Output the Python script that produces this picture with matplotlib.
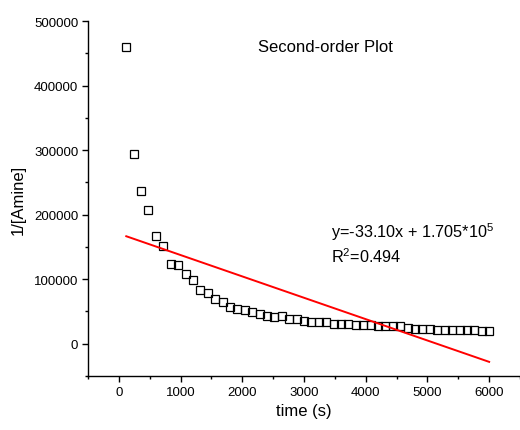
import numpy as np
import matplotlib
matplotlib.use('Agg')
import matplotlib.pyplot as plt
from matplotlib.ticker import MultipleLocator

plt.rcParams['font.family'] = ['Liberation Sans', 'DejaVu Sans']
plt.rcParams['mathtext.fontset'] = 'custom'
plt.rcParams['mathtext.rm'] = 'Liberation Sans'
plt.rcParams['mathtext.default'] = 'regular'

# sampling times (s) and 1/[Amine]
time_s = [120, 240, 360, 480, 600, 720, 840, 960, 1080, 1200,
          1320, 1440, 1560, 1680, 1800, 1920, 2040, 2160, 2280, 2400,
          2520, 2640, 2760, 2880, 3000, 3120, 3240, 3360, 3480, 3600,
          3720, 3840, 3960, 4080, 4200, 4320, 4440, 4560, 4680, 4800,
          4920, 5040, 5160, 5280, 5400, 5520, 5640, 5760, 5880, 6000]
inv_amine = [460000, 294000, 236000, 207000, 167000, 152000, 124000, 122000, 108500, 98500,
             84000, 78500, 70000, 64000, 57500, 54300, 51500, 48600, 45800, 43700,
             40900, 42500, 38500, 37800, 35000, 33800, 33300, 33600, 31100, 31100,
             30000, 29000, 28500, 28500, 28000, 27000, 27000, 26900, 23800, 22700,
             22700, 22700, 21700, 21700, 21700, 20700, 20700, 20700, 20200, 20200]

# linear fit parameters
slope = -33.10
intercept = 1.705e5
r2 = 0.494

fig = plt.figure(figsize=(5.2, 4.31), dpi=100)
ax = fig.add_axes([88/520, 54/431, 432/520, 355/431])

ax.plot(time_s, inv_amine, ls='none', marker='s', ms=5.4, mfc='none', mec='black', mew=0.9)

t = np.array([time_s[0], time_s[-1]])
ax.plot(t, slope * t + intercept, color='red', lw=1.4)

ax.set_xlim(-500, 6500)
ax.set_ylim(-50000, 500000)
ax.xaxis.set_major_locator(MultipleLocator(1000))
ax.xaxis.set_minor_locator(MultipleLocator(500))
ax.yaxis.set_major_locator(MultipleLocator(100000))
ax.yaxis.set_minor_locator(MultipleLocator(50000))

for s in ['top', 'right']:
    ax.spines[s].set_visible(False)
for s in ['left', 'bottom']:
    ax.spines[s].set_linewidth(1.0)

ax.tick_params(which='major', length=4, width=1.0, labelsize=9.5, pad=3)
ax.tick_params(which='minor', length=2.5, width=1.0)

ax.set_xlabel('time (s)', fontsize=12, labelpad=4)
ax.set_ylabel('1/[Amine]', fontsize=12, labelpad=6)

ax.text(0.394, 0.927, 'Second-order Plot', transform=ax.transAxes,
        fontsize=12, ha='left', va='center')
ax.text(0.5625, 0.408, 'y=%.2fx + %.3f*10$^{5}$' % (slope, intercept / 1e5),
        transform=ax.transAxes, fontsize=11.7, ha='left', va='center')
ax.text(0.5625, 0.339, 'R$^{2}$=%.3f' % r2, transform=ax.transAxes,
        fontsize=11.7, ha='left', va='center')

fig.savefig('out.png', dpi=100)
